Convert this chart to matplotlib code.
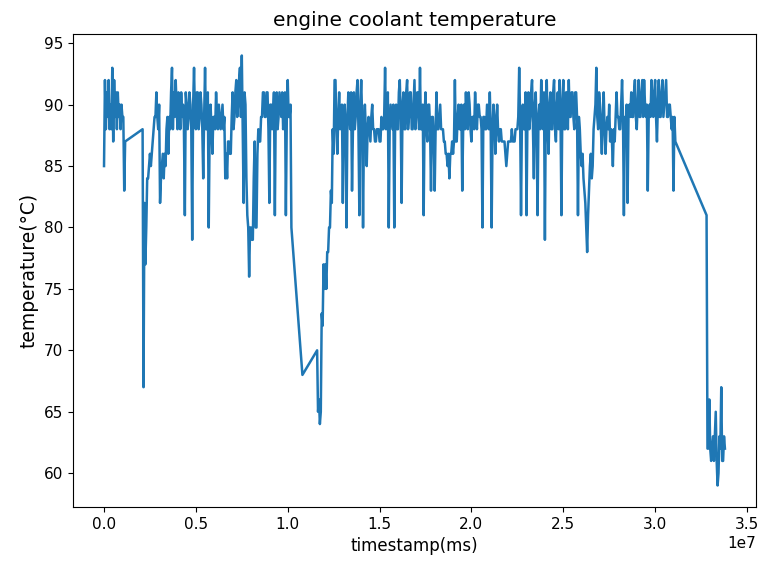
import numpy as np
import matplotlib
matplotlib.use("Agg")
from matplotlib import pyplot as plt

# logger samples every 5e4 ms; each segment = start sample number + readings
period_ms = 5e4

seg_start = [0, 42, 216, 232, 656]

seg1 = [85, 92, 88, 91, 89, 92, 88, 90, 88, 93, 87, 92, 89, 91, 88, 91, 89, 90, 88, 90,
        89, 89, 83, 87]

seg2 = [88, 67, 82, 77, 80, 84, 84, 85, 86, 85, 86, 87, 88, 89, 89, 91, 89, 88, 90, 82,
        84, 85, 86, 84, 86, 85, 88, 89, 86, 89, 88, 91, 93, 88, 91, 89, 92, 90, 88, 91,
        90, 88, 91, 89, 90, 88, 81, 91, 90, 88, 89, 91, 90, 88, 79, 90, 93, 89, 88, 91,
        91, 88, 89, 91, 90, 88, 84, 89, 93, 88, 88, 91, 80, 88, 90, 88, 86, 89, 89, 88,
        91, 89, 88, 90, 89, 88, 89, 90, 88, 89, 84, 86, 84, 87, 87, 86, 86, 89, 91, 88,
        89, 91, 92, 89, 90, 92, 93, 89, 94, 88, 82, 91, 90, 84, 81, 80, 76, 80, 80, 79,
        79, 84, 87, 80, 80, 86, 88, 87, 87, 89, 89, 91, 91, 89, 89, 91, 91, 88, 82, 90,
        90, 88, 89, 91, 81, 90, 91, 88, 89, 91, 90, 89, 91, 88, 89, 91, 81, 89, 92, 89,
        89, 90, 80]

seg3 = [68]

seg4 = [70, 65, 66, 64, 65, 73, 72, 77, 75, 77, 75, 78, 78, 80, 80, 83, 82, 88, 86, 92,
        # dense part, 1.26e7 .. 3.11e7
        92, 88, 86, 89, 91, 88, 89, 90, 82, 89, 90, 88, 80, 89, 91, 89, 88, 91, 83, 88,
        91, 88, 89, 91, 92, 88, 81, 90, 92, 89, 80, 88, 90, 88, 85, 88, 89, 88, 87, 89,
        90, 88, 88, 87, 87, 88, 88, 88, 87, 87, 89, 88, 88, 89, 93, 88, 89, 91, 80, 88,
        90, 89, 88, 90, 80, 89, 90, 88, 88, 91, 92, 89, 82, 90, 91, 88, 88, 91, 92, 88,
        89, 91, 91, 88, 88, 90, 92, 88, 89, 91, 91, 88, 93, 88, 88, 90, 81, 89, 91, 88,
        87, 90, 90, 88, 83, 89, 89, 87, 83, 88, 91, 88, 88, 89, 90, 88, 88, 88, 87, 87,
        86, 86, 85, 86, 84, 86, 86, 87, 86, 87, 92, 87, 87, 89, 90, 88, 88, 90, 83, 88,
        90, 88, 91, 89, 88, 91, 90, 88, 87, 89, 89, 88, 91, 89, 88, 90, 90, 89, 89, 88,
        80, 89, 89, 88, 88, 90, 89, 88, 91, 88, 80, 88, 90, 89, 86, 88, 90, 88, 87, 88,
        88, 87, 87, 87, 87, 86, 85, 86, 87, 87, 87, 87, 88, 87, 87, 87, 88, 88, 88, 89,
        93, 89, 81, 89, 90, 88, 88, 91, 81, 89, 91, 88, 89, 91, 92, 88, 84, 90, 91, 88,
        81, 89, 90, 88, 92, 89, 88, 91, 79, 90, 92, 88, 86, 90, 91, 88, 88, 91, 92, 88,
        87, 90, 91, 88, 92, 89, 81, 90, 92, 88, 88, 91, 91, 88, 92, 89, 89, 91, 91, 89,
        88, 91, 91, 89, 81, 89, 88, 86, 85, 86, 84, 83, 82, 80, 78, 81, 83, 85, 86, 84,
        85, 88, 89, 90, 93, 89, 88, 91, 90, 88, 86, 89, 91, 88, 86, 88, 89, 88, 90, 87,
        88, 87, 85, 88, 87, 89, 91, 89, 89, 88, 88, 90, 92, 89, 81, 89, 88, 90, 82, 89,
        90, 89, 91, 89, 89, 91, 92, 89, 88, 90, 92, 89, 89, 91, 92, 89, 92, 90, 89, 90,
        83, 89, 90, 89, 92, 90, 89, 91, 92, 89, 87, 90, 92, 89, 89, 91, 92, 89, 90, 91,
        92, 89, 89, 90, 90, 89, 88, 89, 83, 89, 87]

seg5 = [81, 62, 62, 66, 62, 61, 62, 63, 61, 63, 65, 61, 59, 60, 63, 62, 67, 61, 61, 63,
        62]

segments = [seg1, seg2, seg3, seg4, seg5]

timestamp = []
temperature = []
for start, vals in zip(seg_start, segments):
    for k, v in enumerate(vals):
        timestamp.append((start + k) * period_ms)
        temperature.append(v)

fig = plt.figure(figsize=(7.61, 5.63), dpi=100)
ax = fig.add_axes([0.0959, 0.0995, 0.8975, 0.8401])
ax.plot(timestamp, temperature, color="#1f77b4", linewidth=1.8)
ax.set_title("engine coolant temperature", fontsize=14.5)
ax.set_xlabel("timestamp(ms)", fontsize=12)
ax.set_ylabel("temperature(°C)", fontsize=13.5)
ax.tick_params(labelsize=11)
ax.xaxis.get_offset_text().set_fontsize(11)

fig.savefig("out.png", dpi=100)
